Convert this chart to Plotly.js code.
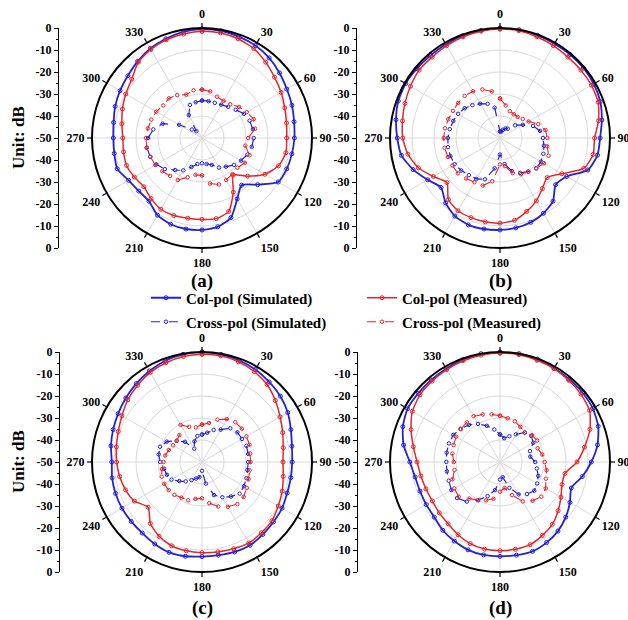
<!DOCTYPE html>
<html>
<head>
<meta charset="utf-8">
<script src="https://cdn.plot.ly/plotly-3.0.1.min.js"></script>
<style>html,body{margin:0;padding:0;background:#fff;}#chart{width:628px;height:620px;}</style>
</head>
<body>
<div id="chart"></div>
<script>
// ---- Data (dB values every 10 degrees, 0..350) ----
const angles = [0,10,20,30,40,50,60,70,80,90,100,110,120,130,140,150,160,170,180,190,200,210,220,230,240,250,260,270,280,290,300,310,320,330,340,350];
const angTickVals = [0,30,60,90,120,150,180,210,240,270,300,330];
const angTickText = ['0','30','60','90','120','150','180','210','240','270','300','330'];
const radialTickVals = [-50,-40,-30,-20,-10,0,10,20,30,40,50];
const radialTickText = ['0','-10','-20','-30','-40','-50','-40','-30','-20','-10','0'];
const seriesNames = ['Col-pol (Simulated)','Col-pol (Measured)','Cross-pol (Simulated)','Cross-pol (Measured)'];
const panelLabels = ['(a)','(b)','(c)','(d)'];

// Panel (a)
const aColSim   = [-0.5,-0.5,-1,-1.5,-2.5,-4,-5.5,-6.5,-7.5,-8,-8.5,-9,-10,-17,-22,-18,-11.5,-9,-8.2,-8,-8.3,-9.5,-12.5,-12.5,-11.5,-9,-9.5,-9.7,-9.2,-8,-7,-6,-4.5,-3,-2,-1];
const aColMeas  = [-1.5,-1.5,-2,-3,-5,-7,-8.5,-10,-11,-11.5,-11.3,-13,-17,-23,-28,-21.5,-14.5,-12.8,-13,-13,-12.5,-12.6,-14,-15.5,-14.5,-13.5,-13.8,-14,-13,-11.5,-10,-8.3,-5,-3.5,-2.5,-2];
const aCrossSim = [-33,-33,-33,-32.5,-31.5,-30,-28,-27,-26.5,-26.5,-27,-28,-29.5,-31,-33,-34.5,-37,-38,-38.5,-38,-36,-33,-31,-28,-26,-25,-24.5,-25.5,-27.5,-31,-38,-44,-46,-38,-34,-33.5];
const aCrossMeas= [-28,-28.5,-30,-30.5,-30,-28,-26.5,-25,-25.5,-29,-30,-27,-27.5,-29,-28.5,-28,-27.5,-29,-33,-33,-31,-28,-27.5,-26.5,-25.5,-25,-24.5,-24.5,-25,-25.5,-26,-27,-26.5,-27.5,-29,-28];
// Panel (b)
const bColSim   = [0,0,-0.3,-0.5,-0.5,-0.5,-0.8,-1.5,-3,-4.5,-5,-7.5,-15,-17,-12.5,-10.5,-9.2,-8.5,-8.2,-8,-8,-9,-11.5,-15,-12,-8,-4.5,-3.3,-2,-0.8,-0.5,-0.8,-1,-0.8,-0.5,-0.3];
const bColMeas  = [-0.5,-0.5,-1,-1.5,-2,-2,-2,-2.5,-4.5,-7,-7,-9.5,-17.5,-22,-20,-17,-14.5,-12,-11.3,-11.3,-11.5,-11.8,-13.5,-18.5,-15,-10.5,-7.5,-5.8,-5,-4,-3,-2,-2,-1.5,-1,-0.7];
const bCrossSim = [-47,-47,-46,-45,-44.5,-41,-38,-34,-31.5,-30.5,-29.7,-29,-28.5,-28.5,-30,-31.7,-34,-38,-42.5,-36,-30,-28.5,-28,-27,-26.2,-26,-26,-26.3,-26.8,-27.4,-28,-29,-30.5,-32,-33.5,-36];
const bCrossMeas= [-32,-35,-37,-37.5,-37.5,-36.5,-35,-31.5,-29,-28.5,-28.2,-26.5,-27,-28.5,-30,-31,-33,-37,-38,-30,-27,-26.8,-26,-25,-25,-24.8,-24.4,-24.4,-24.6,-25,-25.3,-25.2,-25,-25.5,-26.5,-28.5];
// Panel (c)
const cColSim   = [0,-0.3,-0.8,-1.5,-2.5,-3.5,-5,-7,-8.5,-9,-9,-8.8,-8,-7.6,-7,-6.3,-6.5,-7,-7,-6.5,-6.3,-7,-7.8,-8,-8,-8.2,-8.5,-9,-8,-7,-6,-4.8,-3.5,-2.2,-1,-0.3];
const cColMeas  = [-1,-1,-1.5,-2.5,-4,-6.5,-9,-11,-12.5,-13.2,-12.5,-11.2,-10,-8.5,-8,-7.5,-8,-8.5,-8.8,-9,-9.5,-11,-13.5,-18,-14.5,-13,-12,-11.2,-10.5,-9.5,-8,-6,-4.5,-3,-2,-1.3];
const cCrossSim = [-37.5,-36.5,-34.5,-33,-30,-29,-29,-28.5,-28.7,-29,-29,-28.5,-28,-27.7,-29.5,-31.5,-34,-40,-46,-43,-42,-40.5,-38.5,-36.5,-34,-33,-32.5,-31,-30,-29.7,-31.5,-35,-38,-43,-40,-38];
const cCrossMeas= [-33,-32,-29.5,-27.5,-26.4,-26.4,-26.7,-27,-27.8,-28,-28,-27.5,-26.5,-25.3,-25,-26.5,-28.5,-31,-33.5,-33,-31.5,-31.3,-30.5,-30.2,-30.2,-30.5,-31.5,-32.5,-33,-34,-34.8,-35,-34,-30.5,-33,-34];
// Panel (d)
const dColSim   = [0,0,-0.3,-0.8,-1,-1,-1.3,-2.5,-5,-8.5,-12,-15.5,-13.3,-11,-9,-7.7,-6.8,-7,-7.1,-7.1,-7.5,-8.5,-9.5,-11,-11.3,-11.3,-10.8,-9,-5.5,-3,-1.5,-1.5,-1.3,-1,-0.5,0];
const dColMeas  = [-0.5,-0.5,-0.8,-1,-1.5,-2,-3,-6.5,-11,-15,-20,-20,-18,-15.5,-13,-11.5,-10,-9.7,-9.7,-9.8,-10.5,-11.8,-13.3,-14,-14.5,-14.2,-13.5,-12.3,-10,-7,-4,-2.5,-2,-1.5,-1,-0.7];
const dCrossSim = [-37.5,-39,-37.5,-35.5,-32.5,-31.5,-32.5,-35.5,-36,-34,-33,-31.5,-30.5,-29.7,-31,-33,-37.5,-43,-42,-37,-33.5,-30,-26.5,-24.5,-24.5,-25.2,-25.5,-25.6,-25.4,-25.3,-25.5,-26.5,-28,-30,-32.5,-35];
const dCrossMeas= [-29,-29.8,-30.3,-31.5,-32.5,-31,-30.5,-31.8,-30.5,-29.7,-28.5,-27.8,-26,-25.5,-27,-29.3,-34,-38,-36.5,-33,-31.5,-30,-28.3,-25.5,-26,-27,-29,-29,-28,-27.5,-27,-26.8,-26.5,-26,-27,-28];

const panels = [
  [aColSim, aColMeas, aCrossSim, aCrossMeas],
  [bColSim, bColMeas, bCrossSim, bCrossMeas],
  [cColSim, cColMeas, cCrossSim, cCrossMeas],
  [dColSim, dColMeas, dCrossSim, dCrossMeas]
];

// ---- Styling / layout ----
const W = 628, H = 620;
const BLUE = '#2323d6', RED = '#e3262b';
const SERIF = 'Liberation Serif, Times New Roman, serif';
const seriesStyle = [
  {color: BLUE, dash: 'solid', width: 1.8, shape: 'spline', msize: 4},
  {color: RED,  dash: 'solid', width: 1.5, shape: 'spline', msize: 4},
  {color: BLUE, dash: 'dash',  width: 1.2, shape: 'linear', msize: 3.5},
  {color: RED,  dash: 'dash',  width: 1.1, shape: 'linear', msize: 3.5}
];
const legendIds = ['legend','legend2','legend3','legend4'];
const R = 110;
const centers = [[202,138],[500,138],[202,462],[500,462]];
const axisX = [59, 357, 60, 358];
const labelY = [281, 281, 608, 608];

function close(arr){ return arr.concat([arr[0]]); }

const traces = [];
panels.forEach((series, p) => {
  const sub = p === 0 ? 'polar' : 'polar' + (p + 1);
  series.forEach((vals, s) => {
    const st = seriesStyle[s];
    traces.push({
      type: 'scatterpolar',
      subplot: sub,
      r: close(vals),
      theta: close(angles),
      mode: 'lines+markers',
      name: seriesNames[s],
      legend: legendIds[s],
      showlegend: p === 0,
      line: {color: st.color, width: st.width, dash: st.dash, shape: st.shape, smoothing: 0.6},
      marker: {symbol: 'circle-open', size: st.msize, color: st.color, line: {width: 1, color: st.color}},
      hoverinfo: 'skip'
    });
  });
});
for (let p = 0; p < 4; p++) {
  const sfx = p === 0 ? '' : String(p + 1);
  traces.push({type: 'scatter', x: [], y: [], xaxis: 'x' + sfx, yaxis: 'y' + sfx, showlegend: false, hoverinfo: 'skip'});
}

const layout = {
  width: W, height: H,
  margin: {l: 0, r: 0, t: 0, b: 0},
  paper_bgcolor: '#fff', plot_bgcolor: 'rgba(0,0,0,0)',
  font: {family: SERIF, color: '#000'},
  annotations: [],
  showlegend: true
};

const tickFont = {family: SERIF, size: 12, weight: 'bold', color: '#000'};

centers.forEach((c, p) => {
  const sfx = p === 0 ? '' : String(p + 1);
  const dom = {
    x: [(c[0] - R) / W, (c[0] + R) / W],
    y: [1 - (c[1] + R) / H, 1 - (c[1] - R) / H]
  };
  layout['polar' + sfx] = {
    domain: dom,
    bgcolor: '#fff',
    hole: 0,
    radialaxis: {
      range: [-50, 0], tickvals: [-40,-30,-20,-10,0], showticklabels: false, ticks: '',
      showline: false, gridcolor: '#d9d9d9', gridwidth: 1
    },
    angularaxis: {
      rotation: 90, direction: 'clockwise', tickmode: 'array',
      tickvals: angTickVals, ticktext: angTickText,
      showline: true, linecolor: '#000', linewidth: 2,
      ticks: 'outside', ticklen: 4, tickcolor: '#000', tickwidth: 1.2,
      gridcolor: '#d9d9d9', gridwidth: 1,
      tickfont: tickFont
    }
  };
  layout['xaxis' + sfx] = {
    domain: [axisX[p] / W, (axisX[p] + 1) / W], anchor: 'y' + sfx,
    visible: false, fixedrange: true
  };
  layout['yaxis' + sfx] = {
    domain: dom.y, anchor: 'x' + sfx, range: [-50, 50],
    tickmode: 'array', tickvals: radialTickVals, ticktext: radialTickText,
    showline: true, linecolor: '#000', linewidth: 1.2,
    ticks: 'outside', ticklen: 4, tickcolor: '#000', tickwidth: 1,
    minor: {dtick: 5, tick0: 0, ticks: 'outside', ticklen: 2, tickcolor: '#000'},
    showgrid: false, zeroline: false, fixedrange: true,
    tickfont: tickFont
  };
  layout.annotations.push({
    text: panelLabels[p], xref: 'paper', yref: 'paper',
    x: c[0] / W, y: 1 - labelY[p] / H, xanchor: 'center', yanchor: 'middle',
    showarrow: false, font: {family: SERIF, size: 19, weight: 'bold', color: '#000'}
  });
  if (p === 0 || p === 2) {
    layout.annotations.push({
      text: 'Unit: dB', xref: 'paper', yref: 'paper',
      x: 18 / W, y: 1 - c[1] / H, textangle: -90, xanchor: 'center', yanchor: 'middle',
      showarrow: false, font: {family: SERIF, size: 17, weight: 'bold', color: '#000'}
    });
  }
});

const legendPos = [[146, 298], [362, 298], [146, 322], [362, 322]];
legendIds.forEach((id, i) => {
  layout[id] = {
    x: legendPos[i][0] / W, y: 1 - legendPos[i][1] / H,
    xanchor: 'left', yanchor: 'middle',
    bgcolor: 'rgba(0,0,0,0)', borderwidth: 0,
    font: {family: SERIF, size: 15, weight: 'bold', color: '#000'}
  };
});

Plotly.newPlot('chart', traces, layout, {displayModeBar: false, staticPlot: true});
</script>
</body>
</html>
